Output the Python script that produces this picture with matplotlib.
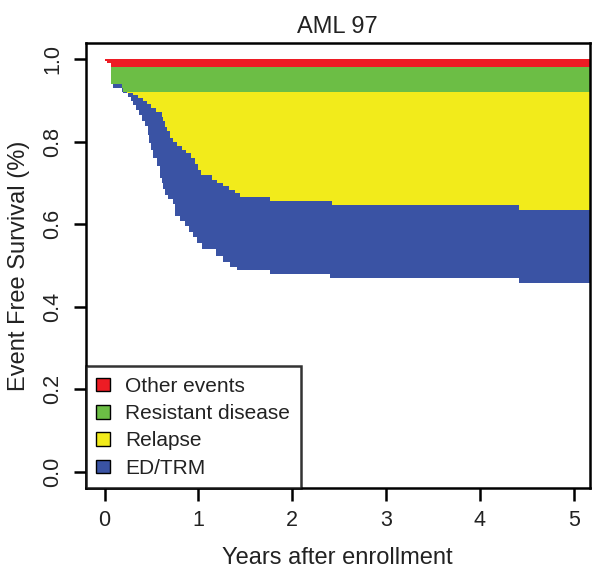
import numpy as np
import matplotlib
matplotlib.use("Agg")
import matplotlib.pyplot as plt
from matplotlib.patches import Patch

plt.rcParams['font.family'] = ['Liberation Sans', 'DejaVu Sans']

# step curves: time (years) at which each boundary drops, and the level after the drop
# boundary under "Other events"
t_other = [0.0, 0.03, 0.07]
v_other = [0.995, 0.99, 0.98]

# boundary under "Resistant disease"
t_resist = [0.0, 0.03, 0.07, 0.19]
v_resist = [0.995, 0.99, 0.941, 0.921]

# boundary under "Relapse"
t_relapse = [0.0, 0.03, 0.07, 0.19, 0.24, 0.30, 0.36, 0.41, 0.45, 0.50, 0.55, 0.61,
             0.62, 0.64, 0.66, 0.70, 0.73, 0.77, 0.82, 0.87, 0.92, 0.96, 1.00, 1.03,
             1.14, 1.20, 1.26, 1.33, 1.39, 1.44, 1.76, 2.42, 4.42]
v_relapse = [0.995, 0.99, 0.941, 0.921, 0.917, 0.912, 0.905, 0.898, 0.892, 0.882, 0.872, 0.861,
             0.85, 0.835, 0.825, 0.809, 0.80, 0.789, 0.78, 0.773, 0.76, 0.745, 0.732, 0.72,
             0.708, 0.70, 0.692, 0.684, 0.676, 0.665, 0.655, 0.646, 0.634]

# event free survival (bottom of "ED/TRM")
t_efs = [0.0, 0.03, 0.07, 0.09, 0.20, 0.25, 0.28, 0.30, 0.33, 0.37, 0.40, 0.43, 0.46,
         0.47, 0.50, 0.52, 0.555, 0.59, 0.61, 0.62, 0.64, 0.68, 0.73, 0.75, 0.80, 0.856,
         0.90, 0.945, 0.99, 1.034, 1.19, 1.264, 1.34, 1.41, 1.76, 2.40, 4.42]
v_efs = [0.995, 0.99, 0.941, 0.929, 0.917, 0.909, 0.899, 0.889, 0.877, 0.865, 0.85, 0.837, 0.817,
         0.797, 0.781, 0.76, 0.741, 0.713, 0.70, 0.685, 0.67, 0.66, 0.648, 0.62, 0.608, 0.596,
         0.582, 0.568, 0.554, 0.54, 0.524, 0.508, 0.497, 0.49, 0.48, 0.469, 0.458]

labels = ['Other events', 'Resistant disease', 'Relapse', 'ED/TRM']
colors = ['#ED1C24', '#6CBE45', '#F2EB1B', '#3A53A4']
t_end = 5.3


def step_at(t, times, vals):
    idx = np.searchsorted(times, t, side='right') - 1
    return np.asarray(vals)[idx]


grid = np.unique(np.concatenate([t_other, t_resist, t_relapse, t_efs, [t_end]]))
b0 = np.ones_like(grid)
b1 = step_at(grid, t_other, v_other)
b2 = step_at(grid, t_resist, v_resist)
b3 = step_at(grid, t_relapse, v_relapse)
b4 = step_at(grid, t_efs, v_efs)

fig = plt.figure(figsize=(6, 5.69), dpi=100)
ax = fig.add_axes([0.143, 0.142, 0.84, 0.783])

bounds = [b0, b1, b2, b3, b4]
for i in range(4):
    ax.fill_between(grid, bounds[i], bounds[i + 1], step='post',
                    color=colors[i], linewidth=0)

ax.set_xlim(-0.2, 5.17)
ax.set_ylim(-0.04, 1.04)
ax.set_xticks([0, 1, 2, 3, 4, 5])
ax.set_yticks([0.0, 0.2, 0.4, 0.6, 0.8, 1.0])
ax.set_yticklabels(['0.0', '0.2', '0.4', '0.6', '0.8', '1.0'], rotation=90, va='center')
ax.tick_params(direction='out', length=9, width=1.8, labelsize=15.5, pad=7,
               colors='black', labelcolor='#222222')
for s in ax.spines.values():
    s.set_linewidth(1.8)

ax.set_title('AML 97', fontsize=17, pad=7, color='#222222')
ax.set_xlabel('Years after enrollment', fontsize=17, labelpad=11, color='#222222')
ax.set_ylabel('Event Free Survival (%)', fontsize=17, labelpad=9, color='#222222')

handles = [Patch(facecolor=c, edgecolor='black', linewidth=1.0) for c in colors]
leg = ax.legend(handles, labels, loc='lower left', borderaxespad=0, fontsize=15,
                frameon=True, fancybox=False, handlelength=0.65, handleheight=0.65,
                handletextpad=0.75, labelspacing=0.4, borderpad=0.5)
leg.get_frame().set_edgecolor('black')
leg.get_frame().set_linewidth(1.8)
for txt in leg.get_texts():
    txt.set_color('#222222')

fig.savefig('out.png', dpi=100)
